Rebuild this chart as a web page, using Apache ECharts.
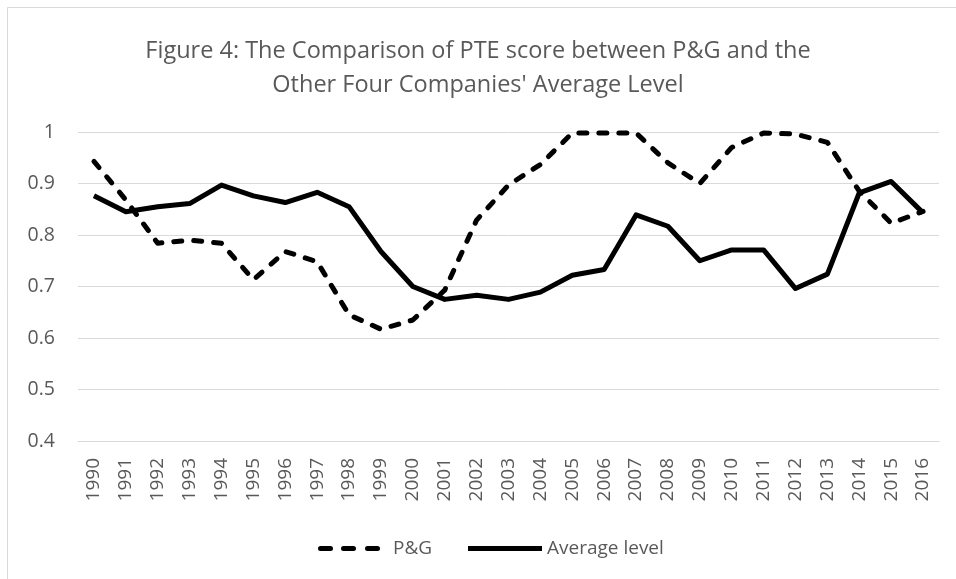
<!DOCTYPE html>
<html>
<head>
<meta charset="utf-8">
<script src="https://cdn.jsdelivr.net/npm/echarts@6/dist/echarts.min.js"></script>
<style>
  html, body { margin: 0; padding: 0; background: #fff; }
  #chart { width: 956px; height: 579px; }
</style>
</head>
<body>
<div id="chart"></div>
<script>
// years on the x axis
const years = ['1990', '1991', '1992', '1993', '1994', '1995', '1996', '1997', '1998', '1999',
  '2000', '2001', '2002', '2003', '2004', '2005', '2006', '2007', '2008', '2009',
  '2010', '2011', '2012', '2013', '2014', '2015', '2016']

// P&G PTE score
const pgScore = [0.943, 0.868, 0.784, 0.790, 0.784, 0.713, 0.768, 0.748, 0.645, 0.617,
  0.635, 0.693, 0.829, 0.897, 0.937, 0.998, 0.998, 0.998, 0.940, 0.900,
  0.970, 0.998, 0.996, 0.980, 0.885, 0.823, 0.846]

// other four companies' average
const avgLevel = [0.876, 0.845, 0.855, 0.861, 0.897, 0.876, 0.863, 0.883, 0.855, 0.768,
  0.700, 0.675, 0.683, 0.675, 0.689, 0.722, 0.733, 0.839, 0.817, 0.750,
  0.771, 0.771, 0.696, 0.724, 0.882, 0.904, 0.843]

const yTicks = { min: 0.4, max: 1, step: 0.1 }

const textColor = '#595959'
const font = '"Open Sans", "Liberation Sans", sans-serif'

// legend icons: three rounded dashes / one solid bar
const dashIcon = 'path://M2.5,0h10a2.5,2.5 0 0 1 0,5h-10a2.5,2.5 0 0 1 0,-5z' +
  'M25.5,0h10a2.5,2.5 0 0 1 0,5h-10a2.5,2.5 0 0 1 0,-5z' +
  'M49.5,0h10a2.5,2.5 0 0 1 0,5h-10a2.5,2.5 0 0 1 0,-5z'
const solidIcon = 'path://M0,0h74v5h-74z'

const chart = echarts.init(document.getElementById('chart'))

const option = {
  backgroundColor: '#fff',
  animation: false,
  title: {
    text: "Figure 4: The Comparison of PTE score between P&G and the\nOther Four Companies' Average Level",
    left: 'center',
    top: 29,
    textStyle: {
      color: textColor,
      fontFamily: font,
      fontWeight: 'normal',
      fontSize: 23.5,
      lineHeight: 34,
      align: 'center'
    }
  },
  graphic: [{
    type: 'rect',
    shape: { x: 7.5, y: 7.5, width: 1200, height: 1200 },
    style: { fill: 'none', stroke: '#d9d9d9', lineWidth: 1 },
    silent: true
  }],
  grid: {
    left: 78,
    right: 17,
    top: 132,
    bottom: 138
  },
  legend: [
    {
      left: 313,
      top: 534,
      itemWidth: 62,
      itemHeight: 5,
      textStyle: { color: textColor, fontFamily: font, fontSize: 19, padding: [0, 0, 0, 8] },
      data: [{ name: 'P&G', icon: dashIcon }]
    },
    {
      left: 463,
      top: 534,
      itemWidth: 74,
      itemHeight: 5,
      textStyle: { color: textColor, fontFamily: font, fontSize: 19 },
      data: [{ name: 'Average level', icon: solidIcon }]
    }
  ],
  xAxis: {
    type: 'category',
    data: years,
    boundaryGap: true,
    axisLine: { show: true, lineStyle: { color: '#d9d9d9', width: 1 } },
    axisTick: { show: false },
    axisLabel: {
      rotate: 90,
      interval: 0,
      margin: 17,
      color: textColor,
      fontFamily: font,
      fontSize: 19
    }
  },
  yAxis: {
    type: 'value',
    min: yTicks.min,
    max: yTicks.max,
    interval: yTicks.step,
    axisLine: { show: false },
    axisTick: { show: false },
    splitLine: { lineStyle: { color: '#d9d9d9', width: 1 } },
    axisLabel: {
      margin: 23,
      color: textColor,
      fontFamily: font,
      fontSize: 19.5,
      formatter: v => String(Math.round(v * 10) / 10)
    }
  },
  series: [
    {
      name: 'P&G',
      type: 'line',
      data: pgScore,
      symbol: 'none',
      lineStyle: { color: '#000', width: 5, type: [8, 12], cap: 'round', join: 'round' },
      itemStyle: { color: '#000' }
    },
    {
      name: 'Average level',
      type: 'line',
      data: avgLevel,
      symbol: 'none',
      lineStyle: { color: '#000', width: 5, type: 'solid', join: 'round' },
      itemStyle: { color: '#000' }
    }
  ]
}

chart.setOption(option)
</script>
</body>
</html>
